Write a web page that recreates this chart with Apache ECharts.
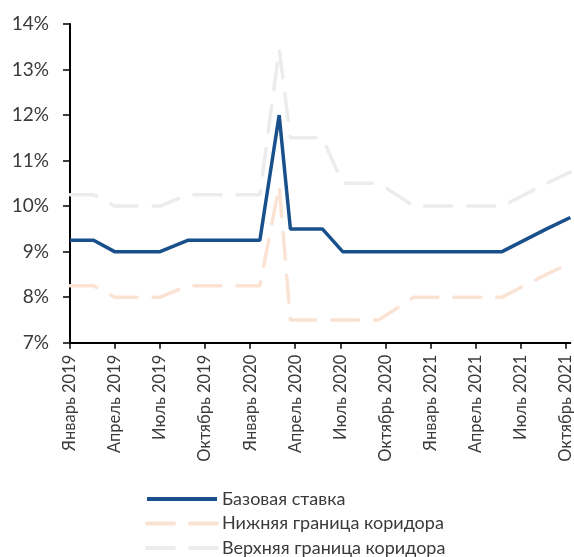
<!DOCTYPE html>
<html><head><meta charset="utf-8">
<script src="https://cdn.jsdelivr.net/npm/echarts@6/dist/echarts.min.js"></script>
<style>html,body{margin:0;padding:0;background:#fff}#c{width:574px;height:557px}</style>
</head><body><div id="c"></div>
<script>
// Dates of the plotted points
const dates = ['2019-01-01','2019-02-17','2019-03-31','2019-07-01','2019-08-27','2020-01-21','2020-02-28','2020-03-22','2020-05-26','2020-07-06','2020-09-18','2020-11-28','2021-05-25','2021-08-24','2021-10-11'];
const baseRate  = [9.25, 9.25, 9.0, 9.0, 9.25, 9.25, 12.0, 9.5, 9.5, 9.0, 9.0, 9.0, 9.0, 9.5, 9.75];
const lowerBand = [8.25, 8.25, 8.0, 8.0, 8.25, 8.25, 10.45, 7.5, 7.5, 7.5, 7.5, 8.0, 8.0, 8.5, 8.75];
const upperBand = [10.25,10.25,10.0,10.0,10.25,10.25,13.45, 11.5,11.5,10.5,10.5,10.0,10.0,10.5,10.75];
const tickLabels = ['Январь 2019','Апрель 2019','Июль 2019','Октябрь 2019','Январь 2020','Апрель 2020','Июль 2020','Октябрь 2020','Январь 2021','Апрель 2021','Июль 2021','Октябрь 2021'];
const seriesNames = ['Базовая ставка','Нижняя граница коридора','Верхняя граница коридора'];

// month index since January 2019 (fractional)
function monthPos(s){
  const [y,m,d] = s.split('-').map(Number);
  const dim = new Date(y, m, 0).getDate();
  return (y-2019)*12 + (m-1) + (d-1)/dim;
}
const xs = dates.map(monthPos);
const pts = arr => arr.map((v,i)=>[xs[i], v]);
const tickVals = tickLabels.map((_,i)=>i*3);

const font = 'Lato, "Noto Sans", sans-serif';
const txt = '#3a3a3a';
const dash = [27,16];
const chart = echarts.init(document.getElementById('c'), null, {renderer:'canvas'});
chart.setOption({
  animation:false,
  backgroundColor:'#fff',
  grid:{left:70, right:2, top:24, bottom:214.3, containLabel:false},
  xAxis:{
    type:'value', min:0, max:xs[xs.length-1],
    axisLine:{show:true, onZero:false, lineStyle:{color:'#000', width:2}},
    axisTick:{show:true, length:6, customValues:tickVals, lineStyle:{color:'#000', width:1.5}},
    axisLabel:{customValues:tickVals, rotate:90, margin:12, fontSize:16.5, fontFamily:font, color:txt,
      formatter: v => tickLabels[Math.round(v/3)] || ''},
    splitLine:{show:false}
  },
  yAxis:{
    type:'value', min:7, max:14, interval:1,
    axisLine:{show:true, lineStyle:{color:'#000', width:2}},
    axisTick:{show:true, length:7, lineStyle:{color:'#000', width:1.5}},
    axisLabel:{margin:21, fontSize:19, fontFamily:font, color:txt, formatter:'{value}%'},
    splitLine:{show:false}
  },
  legend:{
    orient:'vertical', left:140, top:485, height:80, itemWidth:70, itemHeight:18, itemGap:6.5,
    itemStyle:{opacity:0},
    lineStyle:{width:4},
    textStyle:{fontSize:18, lineHeight:18, fontFamily:font, color:txt},
    data:seriesNames
  },
  series:[
    {name:seriesNames[2], type:'line', data:pts(upperBand), symbol:'none', z:2,
     lineStyle:{color:'#ececec', width:3.5, type:dash, cap:'round'}, itemStyle:{color:'#ececec'}},
    {name:seriesNames[1], type:'line', data:pts(lowerBand), symbol:'none', z:3,
     lineStyle:{color:'#fbe3d4', width:3.5, type:dash, cap:'round'}, itemStyle:{color:'#fbe3d4'}},
    {name:seriesNames[0], type:'line', data:pts(baseRate), symbol:'none', z:4,
     lineStyle:{color:'#19508c', width:3.5}, itemStyle:{color:'#19508c'}}
  ]
});
</script></body></html>
